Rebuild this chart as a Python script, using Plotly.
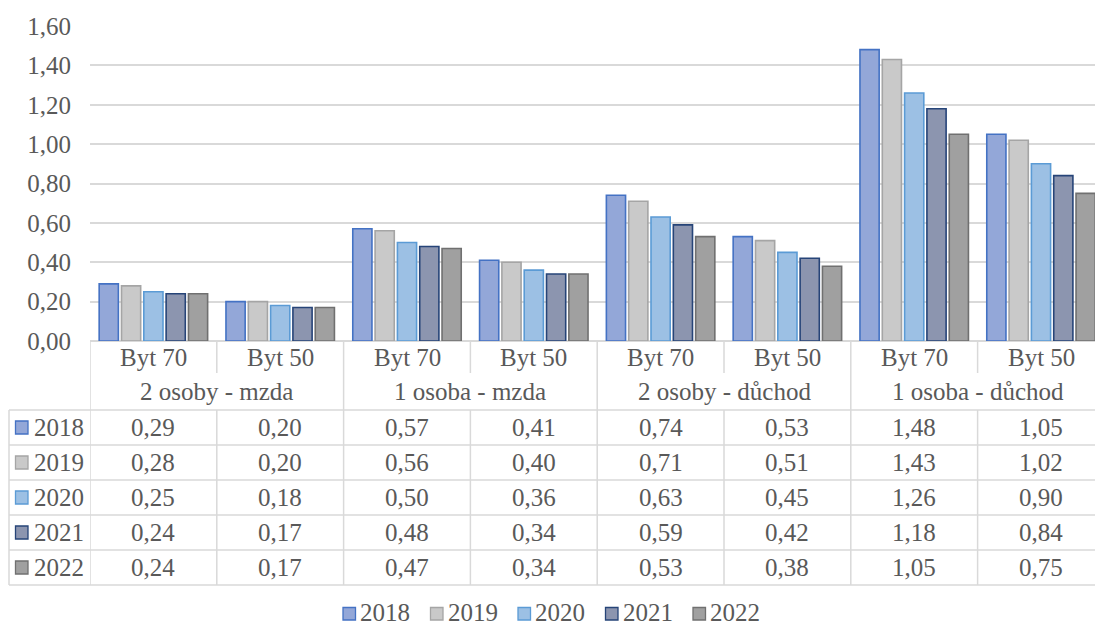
import plotly.graph_objects as go

# Categories (apartment size) and household groups
categories = ["Byt 70", "Byt 50"] * 4
groups = ["2 osoby - mzda", "1 osoba - mzda", "2 osoby - důchod", "1 osoba - důchod"]
years = ["2018", "2019", "2020", "2021", "2022"]

v2018 = [0.29, 0.20, 0.57, 0.41, 0.74, 0.53, 1.48, 1.05]
v2019 = [0.28, 0.20, 0.56, 0.40, 0.71, 0.51, 1.43, 1.02]
v2020 = [0.25, 0.18, 0.50, 0.36, 0.63, 0.45, 1.26, 0.90]
v2021 = [0.24, 0.17, 0.48, 0.34, 0.59, 0.42, 1.18, 0.84]
v2022 = [0.24, 0.17, 0.47, 0.34, 0.53, 0.38, 1.05, 0.75]
series = [v2018, v2019, v2020, v2021, v2022]

fills = ["#93a7d8", "#c9c9c9", "#9cc0e4", "#8c95af", "#a0a0a0"]
edges = ["#4472c4", "#a5a5a5", "#5b9bd5", "#264478", "#707070"]

TXT = "#595959"
GRID = "#d9d9d9"
FONT = "Liberation Serif"
FS = 25

W, H = 1095, 625
L, R, T, B = 90, 0, 26, 284
PH = H - T - B
PW = W - L - R
CAT_W = 126.8


def py(ypx):
    """Pixel row -> paper y."""
    return (H - B - ypx) / PH


def px(xpx):
    """Pixel column -> paper x."""
    return (xpx - L) / PW


xs = list(range(len(categories)))

fig = go.Figure()
for name, vals, fc, ec in zip(years, series, fills, edges):
    fig.add_trace(go.Bar(
        x=xs, y=vals, name=name,
        marker=dict(color=fc, line=dict(color=ec, width=1.6)),
        hoverinfo="skip", showlegend=False,
    ))

shapes = []
annotations = []
font = dict(family=FONT, size=FS, color=TXT)


def label(x, y, text, xref="x", xanchor="center", **extra):
    annotations.append(dict(x=x, y=y, xref=xref, yref="paper", xanchor=xanchor,
                            yanchor="middle", text=text, showarrow=False, font=font, **extra))


# table geometry (pixel rows)
hdr_top, hdr_mid, hdr_bot = H - B, 373, 410
row_h = 35
row_tops = [hdr_bot + i * row_h for i in range(len(years) + 1)]
table_left = 9

line = dict(color=GRID, width=1.5)

# header separators: short between apartment sizes, full between household groups
for k in range(len(categories) + 1):
    xb = k - 0.5
    y1 = hdr_bot if k % 2 == 0 else hdr_mid
    shapes.append(dict(type="line", xref="x", yref="paper", x0=xb, x1=xb,
                       y0=py(hdr_top), y1=py(y1), line=line))
    shapes.append(dict(type="line", xref="x", yref="paper", x0=xb, x1=xb,
                       y0=py(row_tops[0]), y1=py(row_tops[-1]), line=line))

# horizontal lines of data rows
for yt in row_tops:
    shapes.append(dict(type="line", xref="paper", yref="paper", x0=px(table_left), x1=1.02,
                       y0=py(yt), y1=py(yt), line=line))
shapes.append(dict(type="line", xref="paper", yref="paper", x0=px(table_left), x1=px(table_left),
                   y0=py(row_tops[0]), y1=py(row_tops[-1]), line=line))

# header texts
for i, c in enumerate(categories):
    label(i, py((hdr_top + hdr_mid) / 2), c)
for g, gname in enumerate(groups):
    label(2 * g + 0.5, py((hdr_mid + hdr_bot) / 2), gname)

# data rows: legend key, year label and values
for r, (name, vals, fc, ec) in enumerate(zip(years, series, fills, edges)):
    yc = (row_tops[r] + row_tops[r + 1]) / 2
    shapes.append(dict(type="rect", xref="paper", yref="paper",
                       x0=px(15.5), x1=px(28), y0=py(yc - 6.5), y1=py(yc + 6.5),
                       fillcolor=fc, line=dict(color=ec, width=1.3)))
    label(px(32), py(yc), name, xref="paper", xanchor="left")
    for i, v in enumerate(vals):
        label(i, py(yc), f"{v:.2f}".replace(".", ","))

# legend row below the table
leg_y = 612
leg_x0, leg_step = 343, 87.5
for j, (name, fc, ec) in enumerate(zip(years, fills, edges)):
    x0 = leg_x0 + j * leg_step
    shapes.append(dict(type="rect", xref="paper", yref="paper",
                       x0=px(x0), x1=px(x0 + 12.5), y0=py(leg_y - 4.5), y1=py(leg_y + 8),
                       fillcolor=fc, line=dict(color=ec, width=1.3)))
    label(px(x0 + 16), py(leg_y), name, xref="paper", xanchor="left",
          height=24, borderpad=0)

fig.update_layout(
    width=W, height=H,
    margin=dict(l=L, r=R, t=T, b=B, pad=0, autoexpand=False),
    paper_bgcolor="white", plot_bgcolor="white",
    barmode="group", bargap=0.12, bargroupgap=0.14,
    separators=", ",
    font=font,
    showlegend=False,
    xaxis=dict(range=[-0.5, -0.5 + PW / CAT_W], showticklabels=False, showgrid=False,
               zeroline=False, showline=False, fixedrange=True),
    yaxis=dict(range=[0, 1.6], dtick=0.2, tickformat=".2f", showgrid=True, gridcolor=GRID,
               gridwidth=1.5, zeroline=True, zerolinecolor=GRID, zerolinewidth=1.5,
               showline=False, ticks="", ticklabelstandoff=18,
               tickfont=font, fixedrange=True),
    shapes=shapes, annotations=annotations,
)

fig.write_html("out.html")
